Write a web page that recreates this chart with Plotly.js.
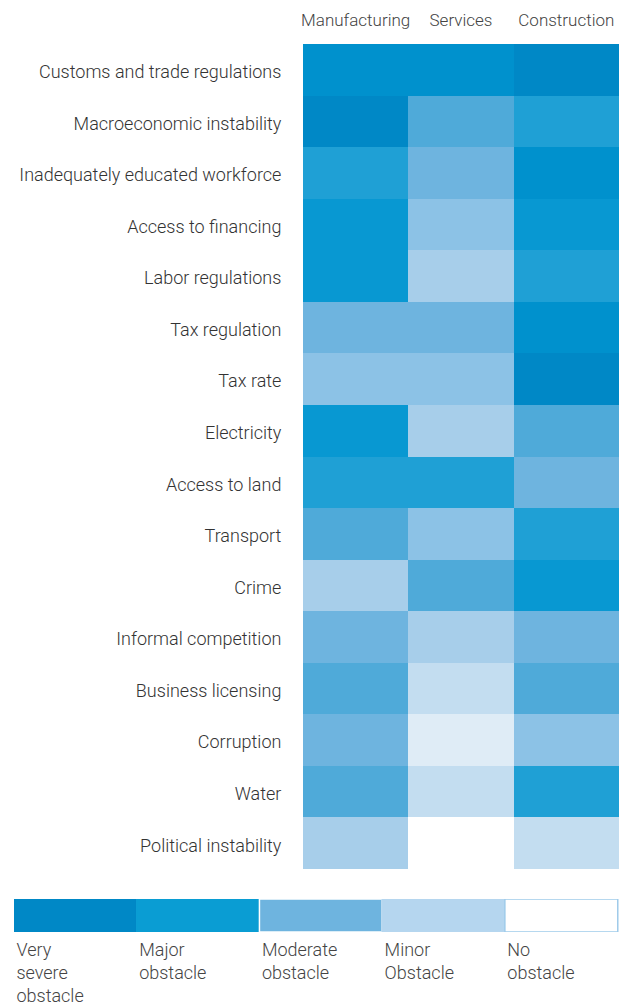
<!DOCTYPE html>
<html>
<head>
<meta charset="utf-8">
<script src="https://cdn.plot.ly/plotly-3.0.1.min.js"></script>
<style>
html,body{margin:0;padding:0;background:#fff;}
#chart{width:619px;height:1007px;}
</style>
</head>
<body>
<div id="chart"></div>
<script>
// Obstacle categories (top to bottom)
const obstacles = [
  "Customs and trade regulations",
  "Macroeconomic instability",
  "Inadequately educated workforce",
  "Access to financing",
  "Labor regulations",
  "Tax regulation",
  "Tax rate",
  "Electricity",
  "Access to land",
  "Transport",
  "Crime",
  "Informal competition",
  "Business licensing",
  "Corruption",
  "Water",
  "Political instability"
];
const sectors = ["Manufacturing", "Services", "Construction"];

// Severity level read from shading (10 = most severe, 0 = no obstacle)
const manufacturing = [9, 10, 7, 8, 8, 5, 4, 8, 7, 6, 3, 5, 6, 5, 6, 3];
const services      = [9, 6, 5, 4, 3, 5, 4, 3, 7, 4, 6, 3, 2, 1, 2, 0];
const construction  = [10, 7, 9, 8, 7, 9, 10, 6, 5, 7, 8, 5, 6, 4, 7, 2];

// Shades for severity levels 0..10
const shades = ["#ffffff", "#dfecf6", "#c3ddf0", "#a7ceea", "#8cc2e6", "#6eb4df",
                "#4faad9", "#1fa0d5", "#0898d2", "#0091cd", "#0088c6"];

// Legend key
const keyLabels = ["Very<br>severe<br>obstacle", "Major<br>obstacle", "Moderate<br>obstacle", "Minor<br>Obstacle", "No<br>obstacle"];
const keyColors = ["#0088c6", "#0a9dd3", "#6eb4df", "#b5d6ef", "#ffffff"];
const keyEdges  = ["#0088c6", "#0a9dd3", "#ffffff", "#b5d6ef", "#9fcbea"];

// Build discrete colorscale
const nShades = shades.length;
const colorscale = [];
shades.forEach((c, i) => {
  colorscale.push([i / nShades, c]);
  colorscale.push([(i + 1) / nShades, c]);
});

const zGrid = obstacles.map((_, r) => [manufacturing[r], services[r], construction[r]]);

const FONT = 'Roboto, "Liberation Sans", sans-serif';
const W = 619, H = 1007;
const TOPM = 44;
const PH = H - TOPM;
const KEY_SPAN = 4.93; // visible part of the 5-block key

const heat = {
  type: "heatmap",
  x: sectors,
  y: obstacles,
  z: zGrid,
  colorscale: colorscale,
  zmin: -0.5,
  zmax: 10.5,
  showscale: false,
  hoverinfo: "x+y",
  xaxis: "x",
  yaxis: "y"
};

const keyBar = {
  type: "bar",
  orientation: "h",
  y: keyLabels.map(() => "key"),
  x: keyLabels.map((_, i) => Math.min(1, KEY_SPAN - 0.01 - i)),
  base: keyLabels.map((_, i) => i),
  width: 1,
  marker: {color: keyColors, line: {color: keyEdges, width: 1.5}},
  hoverinfo: "none",
  xaxis: "x2",
  yaxis: "y2",
  showlegend: false,
  cliponaxis: false
};

const keyText = {
  type: "scatter",
  mode: "text",
  x: keyLabels.map((_, i) => i),
  y: keyLabels.map(() => 0),
  text: keyLabels,
  textposition: "bottom right",
  textfont: {family: FONT, size: 18, color: "#444", weight: 300},
  hoverinfo: "none",
  xaxis: "x3",
  yaxis: "y3",
  showlegend: false,
  cliponaxis: false
};

const layout = {
  width: W, height: H,
  margin: {l: 0, r: 0, t: TOPM, b: 0},
  paper_bgcolor: "#fff",
  plot_bgcolor: "#fff",
  font: {family: FONT, color: "#333"},
  showlegend: false,
  barmode: "overlay",
  xaxis: {
    domain: [303 / W, 1],
    side: "top",
    type: "category",
    showgrid: false, zeroline: false, showline: false,
    ticks: "outside", ticklen: 10, tickcolor: "rgba(0,0,0,0)",
    tickfont: {family: FONT, size: 17, color: "#444", weight: 300},
    fixedrange: true
  },
  yaxis: {
    domain: [(H - 869) / PH, 1],
    type: "category",
    autorange: "reversed",
    showgrid: false, zeroline: false, showline: false,
    ticks: "outside", ticklen: 17, tickcolor: "rgba(0,0,0,0)",
    ticklabelshift: -2,
    tickfont: {family: FONT, size: 18, color: "#333", weight: 300},
    fixedrange: true
  },
  xaxis2: {
    domain: [14 / W, 1],
    range: [0, KEY_SPAN],
    visible: false, fixedrange: true
  },
  yaxis2: {
    domain: [(H - 932) / PH, (H - 899) / PH],
    anchor: "x2",
    type: "category",
    visible: false, fixedrange: true
  },
  xaxis3: {
    domain: [14 / W, 1],
    range: [-0.02, KEY_SPAN - 0.02],
    visible: false, fixedrange: true
  },
  yaxis3: {
    domain: [0, (H - 942) / PH],
    anchor: "x3",
    range: [-1, 0],
    visible: false, fixedrange: true
  }
};

Plotly.newPlot("chart", [heat, keyBar, keyText], layout, {displayModeBar: false, staticPlot: true});
</script>
</body>
</html>
